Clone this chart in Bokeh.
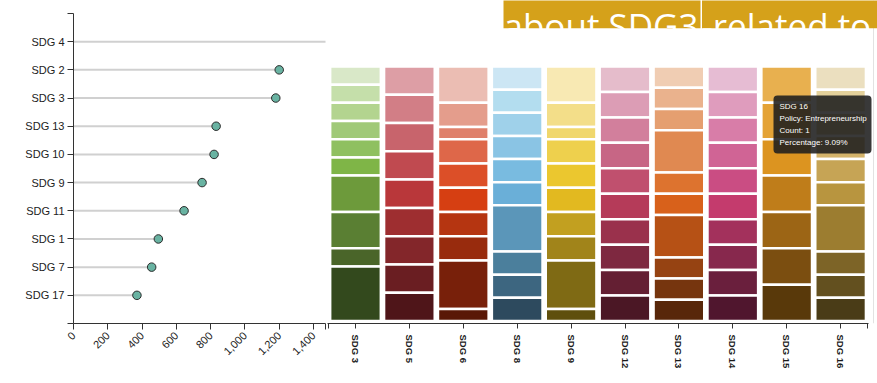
import math
from bokeh.plotting import figure
from bokeh.layouts import row
from bokeh.models import Range1d, FixedTicker, Label, BoxAnnotation, ColumnDataSource, Span
from bokeh.embed import file_html
from bokeh.resources import INLINE

# ---------------- data: lollipop (top -> bottom) ----------------
lolli_labels = ["SDG 4", "SDG 2", "SDG 3", "SDG 13", "SDG 10", "SDG 9",
                "SDG 11", "SDG 1", "SDG 7", "SDG 17"]
lolli_values = [1900, 1200, 1180, 832, 820, 750, 645, 495, 456, 370]
lolli_xticks = [0, 200, 400, 600, 800, 1000, 1200, 1400]
lolli_xlabels = ["0", "200", "400", "600", "800", "1,000", "1,200", "1,400"]

# ---------------- data: stacked 100% columns (segments top -> bottom) ----------------
bar_categories = ["SDG 3", "SDG 5", "SDG 6", "SDG 8", "SDG 9",
                  "SDG 12", "SDG 13", "SDG 14", "SDG 15", "SDG 16"]
counts_sdg3 = [1, 1, 1, 1, 1, 1, 2, 2, 1, 3]
counts_sdg5 = [1, 1, 1, 1, 1, 1, 1, 1, 1]
counts_sdg6 = [3, 2, 1, 2, 2, 2, 2, 2, 4, 1]
counts_sdg8 = [1, 1, 1, 1, 1, 1, 2, 1, 1, 1]
counts_sdg9 = [3, 2, 1, 2, 2, 2, 2, 2, 4, 1]
counts_sdg12 = [1, 1, 1, 1, 1, 1, 1, 1, 1, 1]
counts_sdg13 = [1, 1, 1, 2, 1, 1, 2, 1, 1, 1]
counts_sdg14 = [1, 1, 1, 1, 1, 1, 1, 1, 1, 1]
counts_sdg15 = [1, 1, 1, 1, 1, 1, 1]
counts_sdg16 = [1, 1, 1, 1, 1, 1, 2, 1, 1, 1]

colors_sdg3 = ["#d9e8c8", "#c5dfaa", "#b3d48f", "#a0c978", "#8fc060",
               "#7fb547", "#6d9a3b", "#5a7f33", "#4a6529", "#33491d"]
colors_sdg5 = ["#dd9ea5", "#d27e86", "#c8646c", "#c04a50", "#b9373a",
               "#9e2e30", "#83262a", "#6a1e22", "#4f1519"]
colors_sdg6 = ["#ebbdb3", "#e49d8c", "#df806b", "#de6749", "#dc4f28",
               "#d63f12", "#b53511", "#982b0d", "#78200a", "#591706"]
colors_sdg8 = ["#cce6f4", "#b3ddef", "#9fd1ea", "#8ac4e4", "#79bbe0",
               "#6aafd8", "#5b96b9", "#4b7f9c", "#3d6680", "#2d4a5e"]
colors_sdg9 = ["#f8e9b3", "#f3de89", "#f0d76c", "#eed04d", "#ebc72f",
               "#e2b920", "#c2a020", "#a1841a", "#7f6a14", "#5f4f0d"]
colors_sdg12 = ["#e5bccb", "#dc9db5", "#d27f9c", "#c76685", "#c0506e",
                "#b53b59", "#9a314c", "#7e2840", "#641f33", "#4b1725"]
colors_sdg13 = ["#f0cdb3", "#eab28d", "#e59f70", "#e08951", "#dd732f",
                "#d8611b", "#b65115", "#964312", "#76350e", "#58270a"]
colors_sdg14 = ["#e6bcd3", "#df9cbd", "#d87da8", "#d06495", "#ca4d83",
                "#c43b6d", "#a3315c", "#87284d", "#6a1f3d", "#50162e"]
colors_sdg15 = ["#e8b04f", "#e4a336", "#dc9420", "#bf7d1a", "#9c6515",
                "#7b4e10", "#59390a"]
colors_sdg16 = ["#ebdfbf", "#e4d19b", "#dcc283", "#d4b36a", "#c6a455",
                "#b8953f", "#9c7d30", "#7d6427", "#63501f", "#4a3c17"]

tooltip_lines = ["SDG 16", "Policy: Entrepreneurship", "Count: 1", "Percentage: 9.09%"]
banner_texts = ["about SDG3", "-related to"]

all_counts = [counts_sdg3, counts_sdg5, counts_sdg6, counts_sdg8, counts_sdg9,
              counts_sdg12, counts_sdg13, counts_sdg14, counts_sdg15, counts_sdg16]
all_colors = [colors_sdg3, colors_sdg5, colors_sdg6, colors_sdg8, colors_sdg9,
              colors_sdg12, colors_sdg13, colors_sdg14, colors_sdg15, colors_sdg16]

AXIS_FONT = "Liberation Sans"
AXIS_COLOR = "#333333"
FRAME_BOTTOM_PX = 323  # both panels share the same frame top (0) and bottom

# ================= left: lollipop =================
STEP = 310.0 / 11.0          # pixel step between lollipop rows
ytop = -13.0 / STEP          # frame top (px 0) expressed in row units
left = figure(width=326, height=383, output_backend="svg", toolbar_location=None,
              x_range=Range1d(0, 1470), y_range=Range1d(11, ytop),
              min_border_left=73, min_border_right=1, min_border_top=0,
              min_border_bottom=383 - FRAME_BOTTOM_PX)
left.outline_line_color = None
left.grid.visible = False

ypos = list(range(1, len(lolli_labels) + 1))
lsrc = ColumnDataSource(dict(y=ypos, v=lolli_values, zero=[0] * len(ypos)))
left.segment(x0="zero", y0="y", x1="v", y1="y", source=lsrc, line_color="#d0d0d0", line_width=2)
left.scatter(x="v", y="y", source=lsrc, size=8.5, fill_color="#69b3a2",
             line_color="#2b2b2b", line_width=1)

left.xaxis.ticker = FixedTicker(ticks=lolli_xticks + [1469])
ovx = {t: l for t, l in zip(lolli_xticks, lolli_xlabels)}
ovx[1469] = ""
left.xaxis.major_label_overrides = ovx
left.xaxis.major_label_orientation = math.pi / 4
left.yaxis.ticker = FixedTicker(ticks=[0] + ypos + [11])
ovy = {y: l for y, l in zip(ypos, lolli_labels)}
ovy[0] = ""
ovy[11] = ""
left.yaxis.major_label_overrides = ovy
left.yaxis.bounds = (0, 11)
for ax in (left.xaxis, left.yaxis):
    ax.axis_line_color = AXIS_COLOR
    ax.major_tick_line_color = AXIS_COLOR
    ax.minor_tick_line_color = None
    ax.major_tick_out = 6
    ax.major_tick_in = 0
    ax.major_label_text_font = AXIS_FONT
    ax.major_label_text_color = "#222222"
    ax.major_label_standoff = 3
left.xaxis.major_label_standoff = 4
left.yaxis.major_label_text_font_size = "11px"
left.xaxis.major_label_text_font_size = "11px"

# ================= right: stacked columns =================
# category i is drawn at x = 10 * i
BAND = 53.9


def rx(px):
    return (px - 355.0) / BAND * 10.0


def ry(py):
    return (320.5 - py) / 254.5


right = figure(width=551, height=383, output_backend="svg", toolbar_location=None,
               x_range=Range1d(rx(327), rx(877)), y_range=Range1d(ry(FRAME_BOTTOM_PX), ry(0)),
               y_axis_location=None,
               min_border_left=1, min_border_right=0, min_border_top=0,
               min_border_bottom=383 - FRAME_BOTTOM_PX)
right.outline_line_color = None
right.grid.visible = False

# faint page edge line at the right
right.add_layout(Span(location=rx(873), dimension="height", line_color="#e2e2e2", line_width=1))

xs, tops, bottoms, cols = [], [], [], []
for i, (counts, colors) in enumerate(zip(all_counts, all_colors)):
    total = float(sum(counts))
    cum = 0
    for c, col in zip(counts, colors):
        xs.append(10 * i)
        tops.append(1 - cum / total)
        cum += c
        bottoms.append(1 - cum / total)
        cols.append(col)
rsrc = ColumnDataSource(dict(x=xs, top=tops, bottom=bottoms, color=cols))
right.vbar(x="x", width=9.4, top="top", bottom="bottom", source=rsrc,
           fill_color="color", line_color="white", line_width=2.5)

bx = [10 * i for i in range(len(bar_categories))]
right.xaxis.ticker = FixedTicker(ticks=[-5] + bx + [95])
ovr = {t: c for t, c in zip(bx, bar_categories)}
ovr[-5] = ""
ovr[95] = ""
right.xaxis.major_label_overrides = ovr
right.xaxis.bounds = (-5.2, 95.2)
right.xaxis.major_label_orientation = -math.pi / 2
right.xaxis.axis_line_color = AXIS_COLOR
right.xaxis.major_tick_line_color = AXIS_COLOR
right.xaxis.minor_tick_line_color = None
right.xaxis.major_tick_out = 5
right.xaxis.major_tick_in = 0
right.xaxis.major_label_text_font = AXIS_FONT
right.xaxis.major_label_text_font_style = "bold"
right.xaxis.major_label_text_font_size = "9.5px"
right.xaxis.major_label_text_color = "#1a1a1a"
right.xaxis.major_label_standoff = 6

# banner (slide title fragment)
GOLD = "#d5a11a"
right.add_layout(BoxAnnotation(left=rx(503), right=rx(700), bottom=ry(27.7), top=ry(-5),
                               fill_color=GOLD, fill_alpha=1, line_color=None))
right.add_layout(BoxAnnotation(left=rx(701.5), right=rx(890), bottom=ry(27.7), top=ry(-5),
                               fill_color=GOLD, fill_alpha=1, line_color=None))
right.add_layout(Label(x=rx(503), y=ry(25), text=banner_texts[0], text_font="Open Sans",
                       text_font_size="35px", text_color="white", text_baseline="alphabetic"))
right.add_layout(Label(x=rx(701), y=ry(25), text=banner_texts[1], text_font="Open Sans",
                       text_font_size="35px", text_color="white", text_baseline="alphabetic"))

# hover tooltip
right.add_layout(BoxAnnotation(left=rx(773), right=rx(871), bottom=ry(153), top=ry(95),
                               fill_color="#1e1e1e", fill_alpha=0.88, line_color=None,
                               border_radius=4))
for k, line in enumerate(tooltip_lines):
    right.add_layout(Label(x=rx(779), y=ry(106 + 12 * k), text=line, text_font=AXIS_FONT,
                           text_font_size="8px", text_color="white", text_baseline="middle"))

layout = row(left, right)
open("out.html", "w").write(file_html(layout, INLINE))
